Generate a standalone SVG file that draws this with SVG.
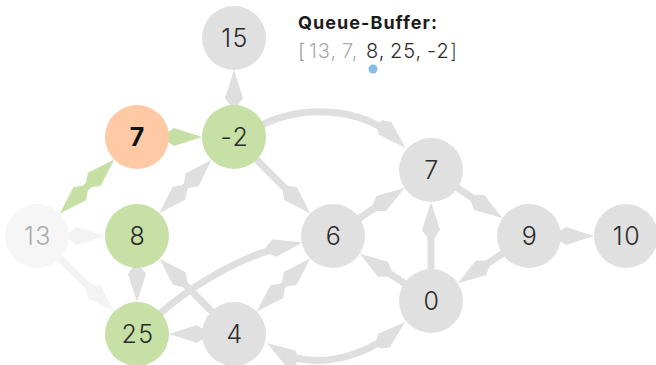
<svg xmlns="http://www.w3.org/2000/svg" width="656" height="365" viewBox="0 0 656 365">
  <style>
    .edge { fill: none; stroke-width: 7; }
    .e-gray { stroke: #dfdfdf; }
    .e-green { stroke: #c5dfa4; }
    .e-faint { stroke: #f3f3f3; }
    .node circle { fill: #e0e0e0; }
    .node.visited circle { fill: #c6e0a6; }
    .node.current circle { fill: #ffc9a6; }
    .node.unseen circle { fill: #f6f6f6; }
    .node text { font-family: Inter, "Open Sans", "Liberation Sans", sans-serif; font-size: 25px; font-weight: 300; letter-spacing: 1.5px; fill: #2b2b2b; text-anchor: middle; }
    .node.current text { font-weight: 700; fill: #111; letter-spacing: 0; }
    .node.unseen text { fill: #ababab; }
    .title { font-family: Inter, "Open Sans", "Liberation Sans", sans-serif; font-size: 18px; font-weight: 700; fill: #1a1a1a; }
    .queue { font-family: Inter, "Open Sans", "Liberation Sans", sans-serif; font-size: 20px; font-weight: 300; letter-spacing: 1px; fill: #333; }
    .q-done { fill: #aaaaaa; }
    .q-wait { fill: #2b2b2b; }
  </style>
  <defs>
    <!-- kite-shaped arrowhead: tip sits 12px beyond the path end -->
    <marker id="head-gray" viewBox="-37 -10 38 20" refX="-12" refY="0" markerWidth="38" markerHeight="20" markerUnits="userSpaceOnUse" orient="auto-start-reverse">
      <path d="M0,0 L-28,-9 L-36,-3.5 L-36,3.5 L-28,9 Z" fill="#dfdfdf"/>
    </marker>
    <marker id="head-green" viewBox="-37 -10 38 20" refX="-12" refY="0" markerWidth="38" markerHeight="20" markerUnits="userSpaceOnUse" orient="auto-start-reverse">
      <path d="M0,0 L-28,-9 L-36,-3.5 L-36,3.5 L-28,9 Z" fill="#c5dfa4"/>
    </marker>
    <marker id="head-faint" viewBox="-37 -10 38 20" refX="-12" refY="0" markerWidth="38" markerHeight="20" markerUnits="userSpaceOnUse" orient="auto-start-reverse">
      <path d="M0,0 L-28,-9 L-36,-3.5 L-36,3.5 L-28,9 Z" fill="#f3f3f3"/>
    </marker>
  </defs>

  <rect width="656" height="365" fill="#ffffff"/>

  <g id="edges">
    <!-- faint edges out of 13 -->
    <path class="edge e-faint" d="M37,236 L93,236" marker-end="url(#head-faint)"/>
    <path class="edge e-faint" d="M37,236 L105.6,303.2" marker-end="url(#head-faint)"/>
    <!-- traversed edges -->
    <path class="edge e-green" d="M68.3,205 L105.7,168" marker-start="url(#head-green)" marker-end="url(#head-green)"/>
    <path class="edge e-green" d="M137,137 L190,137" marker-end="url(#head-green)"/>
    <!-- remaining edges -->
    <path class="edge e-gray" d="M234,137 L234,82" marker-end="url(#head-gray)"/>
    <path class="edge e-gray" d="M203.2,168.4 L167.8,204.6" marker-start="url(#head-gray)" marker-end="url(#head-gray)"/>
    <path class="edge e-gray" d="M234,137 L301.9,204.9" marker-end="url(#head-gray)"/>
    <path class="edge e-gray" d="M256,128 C300,104 362,106 396.6,139.5" marker-end="url(#head-gray)"/>
    <path class="edge e-gray" d="M137,236 L137,290" marker-end="url(#head-gray)"/>
    <path class="edge e-gray" d="M234,334 L168,267.3" marker-end="url(#head-gray)"/>
    <path class="edge e-gray" d="M155,318 C185,290 240,255 290.4,244.9" marker-end="url(#head-gray)"/>
    <path class="edge e-gray" d="M234,334 L181,334" marker-end="url(#head-gray)"/>
    <path class="edge e-gray" d="M265.3,303 L301.7,267" marker-start="url(#head-gray)" marker-end="url(#head-gray)"/>
    <path class="edge e-gray" d="M277,349.5 C312,372 365,357 396,330" marker-start="url(#head-gray)" marker-end="url(#head-gray)"/>
    <path class="edge e-gray" d="M431,301 L369.7,260.3" marker-end="url(#head-gray)"/>
    <path class="edge e-gray" d="M333,236 L394.5,194.6" marker-end="url(#head-gray)"/>
    <path class="edge e-gray" d="M431,301 L431,214" marker-end="url(#head-gray)"/>
    <path class="edge e-gray" d="M431,170 L492.5,211.4" marker-end="url(#head-gray)"/>
    <path class="edge e-gray" d="M529,236 L467.7,276.7" marker-end="url(#head-gray)"/>
    <path class="edge e-gray" d="M529,236 L582,236" marker-end="url(#head-gray)"/>
  </g>

  <g id="node-15" class="node"><circle cx="234" cy="38" r="32"/><text x="235" y="47">15</text></g>
  <g id="node-7a" class="node current"><circle cx="137" cy="137" r="32"/><text x="137" y="146">7</text></g>
  <g id="node-neg2" class="node visited"><circle cx="234" cy="137" r="32"/><text x="235" y="146">-2</text></g>
  <g id="node-13" class="node unseen"><circle cx="37" cy="236" r="32"/><text x="38" y="245">13</text></g>
  <g id="node-8" class="node visited"><circle cx="137" cy="236" r="32"/><text x="138" y="245">8</text></g>
  <g id="node-25" class="node visited"><circle cx="137" cy="334" r="32"/><text x="138" y="343">25</text></g>
  <g id="node-4" class="node"><circle cx="234" cy="334" r="32"/><text x="235" y="343">4</text></g>
  <g id="node-6" class="node"><circle cx="333" cy="236" r="32"/><text x="334" y="245">6</text></g>
  <g id="node-7b" class="node"><circle cx="431" cy="170" r="32"/><text x="432" y="179">7</text></g>
  <g id="node-0" class="node"><circle cx="431" cy="301" r="32"/><text x="432" y="310">0</text></g>
  <g id="node-9" class="node"><circle cx="529" cy="236" r="32"/><text x="530" y="245">9</text></g>
  <g id="node-10" class="node"><circle cx="626" cy="236" r="32"/><text x="627" y="245">10</text></g>

  <g id="queue-buffer">
    <text class="title" x="298" y="29" textLength="139">Queue-Buffer:</text>
    <text class="queue" y="58"><tspan x="298" fill="#9a9a9a">[</tspan><tspan x="309" class="q-done">13,</tspan><tspan x="342" class="q-done">7,</tspan><tspan x="366" class="q-wait">8,</tspan><tspan x="390" class="q-wait">25,</tspan><tspan x="427" class="q-wait">-2</tspan><tspan x="450" fill="#555555">]</tspan></text>
    <circle cx="373" cy="69" r="4.5" fill="#86bce6"/>
  </g>
</svg>
